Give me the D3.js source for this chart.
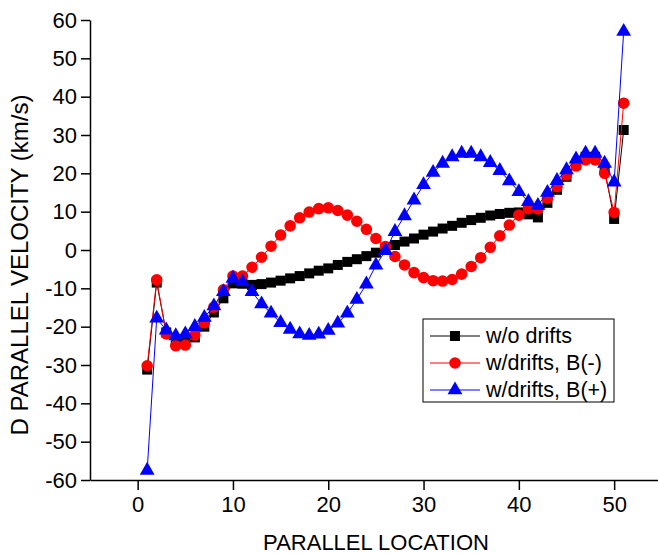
<!DOCTYPE html>
<html>
<head>
<meta charset="utf-8">
<script src="https://cdn.jsdelivr.net/npm/d3@7"></script>
<style>
  body { margin: 0; background: #fff; }
  text { font-family: "Liberation Sans", Arial, sans-serif; }
</style>
</head>
<body>
<div id="d3"></div>
<script>
const width = 658;
const height = 554;

// 数据
const locations = d3.range(1, 52);
const noDrifts = [-31.2, -8.5, -21.5, -23.5, -23.5, -22.8, -20, -16.3, -12.6, -8.7,
  -8.8, -9.1, -8.9, -8.5, -8.0, -7.4, -6.8, -6.1, -5.4, -4.8,
  -3.9, -3.1, -2.4, -1.6, -0.7, 0.4, 1.3, 2.2, 3.0, 4.0,
  4.8, 5.6, 6.3, 7.1, 7.8, 8.4, 9.0, 9.4, 9.7, 9.8,
  9.3, 8.5, 12.3, 15.7, 19.1, 22.2, 24.3, 24.3, 21, 8.1, 31.3];
const driftsBminus = [-30.2, -7.8, -21.9, -25, -24.8, -22.2, -19, -14.9, -10.4, -6.8,
  -6.8, -4.5, -1.9, 1.0, 3.9, 6.3, 8.4, 9.9, 10.8, 11.0,
  10.3, 9.1, 7.5, 5.4, 3.0, 0.9, -1.7, -3.9, -5.9, -7.2,
  -8.0, -8.1, -7.7, -6.3, -4.3, -2.0, 0.7, 3.7, 6.5, 9.1,
  10.8, 10.7, 13.5, 16.5, 19.6, 21.9, 23.5, 23.5, 20.0, 9.8, 38.3];
const driftsBplus = [-57.5, -17.8, -20.9, -22.4, -21.9, -20, -17.6, -14.6, -10.9, -7.4,
  -8.3, -10.9, -14.1, -16.5, -19.0, -20.7, -21.9, -22.3, -22.0, -21.0,
  -19.1, -16.5, -12.9, -8.9, -4.0, -0.2, 4.8, 8.9, 13.0, 17.0,
  20.2, 22.6, 24.3, 25.2, 25.2, 24.3, 22.8, 20.7, 18.0, 15.2,
  12.6, 11.6, 15.0, 18.1, 20.9, 23.7, 25.2, 25.2, 22.6, 17.7, 57.0];
const seriesNames = ['w/o drifts', 'w/drifts, B(-)', 'w/drifts, B(+)'];
const seriesColors = ['#000000', '#ff0000', '#0000ff'];
const xMajorTicks = [0, 10, 20, 30, 40, 50];
const xMinorTicks = [-5, 5, 15, 25, 35, 45, 55];
const yMajorTicks = d3.range(-60, 61, 10);
const yMinorTicks = d3.range(-55, 60, 10);

// 画布
let svg = d3.select('#d3').append('svg')
  .attr('width', width)
  .attr('height', height);

let x = d3.scaleLinear().domain([-5, 55]).range([90, 661.8]);
let y = d3.scaleLinear().domain([-60, 60]).range([480, 20]);

// 刻度文字用普通减号
const plain = d => String(d);

// 坐标轴
let gy = svg.append('g').attr('transform', 'translate(90,0)');
gy.call(d3.axisLeft(y).tickValues(yMinorTicks).tickSize(5).tickSizeOuter(0).tickFormat(''));
gy.call(d3.axisLeft(y).tickValues(yMajorTicks).tickSize(9).tickSizeOuter(0).tickPadding(4).tickFormat(plain));
gy.selectAll('path, line').attr('stroke', '#000').attr('stroke-width', 1.5);
gy.selectAll('text').style('font-size', '22px').attr('fill', '#000');

let gx = svg.append('g').attr('transform', 'translate(0,480)');
gx.call(d3.axisBottom(x).tickValues(xMinorTicks).tickSize(5).tickSizeOuter(0).tickFormat(''));
gx.call(d3.axisBottom(x).tickValues(xMajorTicks).tickSize(10).tickSizeOuter(0).tickPadding(6).tickFormat(plain));
gx.selectAll('path, line').attr('stroke', '#000').attr('stroke-width', 1.5);
gx.selectAll('text').style('font-size', '22px').attr('fill', '#000');

// 标题
svg.append('text')
  .text('PARALLEL LOCATION')
  .attr('x', 376)
  .attr('y', 550)
  .attr('text-anchor', 'middle')
  .style('font-size', '22px');

svg.append('text')
  .text('D PARALLEL VELOCITY (km/s)')
  .attr('transform', 'translate(28,265) rotate(-90)')
  .attr('text-anchor', 'middle')
  .style('font-size', '24px');

// 曲线与标记
const symbols = [d3.symbolSquare, d3.symbolCircle, d3.symbolTriangle];
const symbolSizes = [100, 105, 95];
const allSeries = [noDrifts, driftsBminus, driftsBplus];

let line = d3.line()
  .x((d, i) => x(locations[i]))
  .y(d => y(d));

allSeries.forEach(function(values, k) {
  let g = svg.append('g');
  g.append('path')
    .attr('d', line(values))
    .attr('fill', 'none')
    .attr('stroke', seriesColors[k])
    .attr('stroke-width', 1);
  g.selectAll('path.pt')
    .data(values)
    .enter()
    .append('path')
    .attr('class', 'pt')
    .attr('d', d3.symbol().type(symbols[k]).size(symbolSizes[k]))
    .attr('transform', (d, i) => 'translate(' + x(locations[i]) + ',' + y(d) + ')')
    .attr('fill', seriesColors[k]);
});

// 图例
let legend = svg.append('g').attr('transform', 'translate(423,319)');
legend.append('rect')
  .attr('width', 191)
  .attr('height', 83)
  .attr('fill', '#fff')
  .attr('stroke', '#000')
  .attr('stroke-width', 1);

seriesNames.forEach(function(name, k) {
  let row = legend.append('g').attr('transform', 'translate(0,' + (17 + k * 27) + ')');
  row.append('line')
    .attr('x1', 7)
    .attr('x2', 57)
    .attr('stroke', seriesColors[k])
    .attr('stroke-width', 1);
  row.append('path')
    .attr('d', d3.symbol().type(symbols[k]).size(symbolSizes[k]))
    .attr('transform', 'translate(32,0)')
    .attr('fill', seriesColors[k]);
  row.append('text')
    .text(name)
    .attr('x', 63)
    .attr('y', 7)
    .style('font-size', '21.5px');
});
</script>
</body>
</html>
